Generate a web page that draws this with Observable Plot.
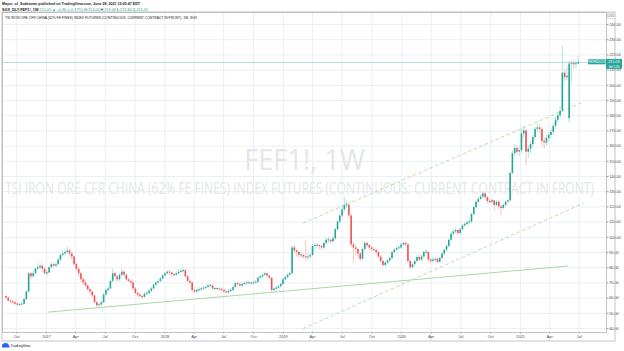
<!DOCTYPE html>
<html><head><meta charset="utf-8">
<script src="https://cdn.jsdelivr.net/npm/d3@7"></script>
<script src="https://cdn.jsdelivr.net/npm/@observablehq/plot@0.6"></script>
<style>
html,body{margin:0;padding:0;background:#fff;width:624px;height:351px;overflow:hidden}
#chart svg{display:block}
</style></head>
<body><div id="chart"></div>
<script>
// ---- data (weekly candles, SGX FEF1!) ----
const weekStart = "2016-08-29";
const closes = [
60,58,57.5,57,56,55.5,55.5,56,59,64,
76,74,76,79,80,81,79,76,76.5,80,
82,81,82,85,88,89,90,91,89,87,
82,79,76,72,70,68,65.5,64,61.5,57,
55,55.5,57,62,65,66,71,76,74,72,
75,77,75,72,71,70,66,63,62,61,
60.5,62.5,63,64.5,66,68.5,70,71,72.5,74.5,
76,77,76.5,75.5,75,76,77,77.5,78,74,
71,70,65,64,65,65.5,66,66.5,67,68,
68,66,66,66,65.5,65,64,63.5,64.5,65,
67,69.5,69,68,69,69.5,70,69.5,69.5,70,
70.5,73,74,75,76,74.5,73,65,66,66.5,
67.5,69,72,73.5,75,76,93,91,90,88,
88,87,86.5,87,88,94,94.5,94.5,94,93,
96,98,98,97,99,105,110,114,118,121,
121,114,95,93,92,89,85.5,92,96,94.5,
93,92,91.3,90,87,84,81.5,83,84.5,86,
90,91.5,92.6,93,95,96,95,84,80,82,
84,86.7,85,87,90,90,85,84,85,85.5,
83.5,86,89,91.5,94,98,102,103.5,104.5,102.5,
105,107.5,108.5,109.5,110,115,119.5,123,125,126.5,
128.5,126,123.5,123,124,121,123,120,119,121,
123,124,142,155,158.5,156,157,168,170,156,
158,161,165.7,171,172,171,163,162,165,167,
169,173,177,180,183,208,205,206,214,214.5,
213.5,214.25,215.05
];
const highs = [
62,61,59,58.5,58,57,56.5,57,60,65,
77,77,78,80,82,83,82,80,78,81,
83.5,83,83.5,86,89,91,91.5,94,92,90,
88,83,80,77,73.5,72,69,67,65,62,
58,56.5,58,63,66,67.5,72,79,77,75,
76,79,78,76,73,72,71,67,64,63,
62,63.5,64.5,65.5,67,69.5,71,72,73.5,75.5,
77,78,78,77,76.5,77.5,78.5,79,80,79,
75,72,70.5,66,66,67,67,67.5,68,69,
69,68.5,67,67,66.5,66.5,66,64.5,65.5,66,
68,70.5,70.5,70,70,70.5,71,71,70.5,71,
71.5,74,75,76.5,77,77,75,73.5,67,67.5,
68.5,70,73,74.5,76,77,94,94.5,92,91,
90,89,98,89,89.5,95.5,96,96,95.5,95,
97,99.5,100,99,100,106,111,115.5,119.5,126,
124,122,115,97,95,93,90,93,97,97,
95.5,94,93,92,91,88,85,84,85.5,87,
91,92.5,94,94.5,96,97,97,96,85,83.5,
85.5,88,88,88.5,91.5,92,90.5,86,86.5,87,
86.5,87,90,92.5,95,99,103,105,106,105.5,
106,108.5,110,111,112,116,120.5,124,126.5,128,
130,129,127,125,125.5,124.5,124,124,121,122,
124,125,143,157,161,160,160,172,173,171,
160,163,167,172.5,175,174,172,165,167,169,
171,175,179,182,186,226,210,212,216,216,
217,216,219
];
const lows = [
59,57.5,56.5,56,55,54.5,54.5,55,55.5,58.5,
63.5,72,73,75,78,79,77,75,74.5,76,
79,80,80,81.5,84,87,88,89,87.5,85,
81,77.5,74,70.5,68,66.5,64,62.5,60,56,
53.5,54,54.5,56.5,61,64,65.5,70,72.5,71,
71,74,73,71,70,68.5,65,62,60.5,60,
59,60,61.5,62,63.5,65.5,67.5,69,70,72,
74,75,75,74,74,74.5,75,76,76.5,73,
70,68.5,64,63,63,64,64.5,65,65.5,66,
66.5,65,65,64.5,64.5,64,63,62.5,62.5,63.5,
64.5,66.5,68,67,67,68,68.5,68.5,68.5,68.5,
69,70,72,73,74,73.5,72,64,64,65,
65.5,66.5,68.5,71,72.5,74,75.5,89,87,86,
86,85.5,84,85,86,87.5,92,93,92,91.5,
92,95,96,95.5,96,98,104,109,113,117,
119,112,93,83,88,86,84,85,91,93,
91.5,90.5,90,88.5,86,83,80.5,80.5,82,83.5,
85,89,90.5,91.5,92,94,93.5,83,78.5,79,
81,83,84,84,86,88.5,83.5,82.5,83,84,
82.5,83,85,88,90.5,93,97,101,102,101,
101.5,104,106.5,107.5,108,109,114,118.5,122,124,
125,124.5,122,121.5,122,117,120,118,114,118,
120,122,123,141,153,154,153,155,165,147,
152,155,159,164,169,168,160,158,160,163,
165,167,171,175,178,182,202,203,175,202,
210,211,213.8
];
const firstOpen = 61;
const gapOpens = [[248, 178], [252, 214]];
const yTicks = [40,50,60,70,80,90,100,110,120,130,140,150,160,170,180,190,200,210,220,230,240];
const xTickDates = ["2016-10-01","2017-01-01","2017-04-01","2017-07-01","2017-10-01","2018-01-01","2018-04-01","2018-07-01","2018-10-01","2019-01-01","2019-04-01","2019-07-01","2019-10-01","2020-01-01","2020-04-01","2020-07-01","2020-10-01","2021-01-01","2021-04-01","2021-07-01"];
const xTickLabels = ["Oct","2017","Apr","Jul","Oct","2018","Apr","Jul","Oct","2019","Apr","Jul","Oct","2020","Apr","Jul","Oct","2021","Apr","Jul"];
const trendSolid = [["2017-01-08", 50.8], ["2021-05-27", 81.1]];
const channelUpper = [["2019-03-03", 109.3], ["2021-07-13", 189]];
const channelLower = [["2019-03-03", 40], ["2021-07-13", 122.3]];
const symbolText = "FEF1!, 1W";
const longName = "TSI IRON ORE CFR CHINA (62% FE FINES) INDEX FUTURES (CONTINUOUS: CURRENT CONTRACT IN FRONT)";
const headerLine1 = "Mayur_of_Sodetown published on TradingView.com, June 28, 2021 12:05:47 EDT";
const headerLine2 = [["SGX_DLY:FEF1!, 1W ", 0], ["215.05 \u25B2 +0.80 (+0.37%) ", 1], ["O:", 0], ["214.00 ", 1], ["H:", 0], ["219.00 ", 1], ["L:", 0], ["213.80 ", 1], ["C:", 0], ["215.05", 1]];
const paneLegend = "TSI IRON ORE CFR CHINA (62% FE FINES) INDEX FUTURES (CONTINUOUS: CURRENT CONTRACT IN FRONT), 1W, SGX";
const contractLabel = "FEFN2021";
const countdown = "6d 12h";

// ---- build candles ----
const t0 = Date.parse(weekStart);
const bars = closes.map((c, i) => {
  let o = i === 0 ? firstOpen : closes[i - 1];
  const g = gapOpens.find(d => d[0] === i);
  if (g) o = g[1];
  return {date: new Date(t0 + i * 7 * 864e5), open: o, close: c,
    high: Math.max(highs[i], o, c), low: Math.min(lows[i], o, c)};
});
const up = bars.filter(d => d.close >= d.open);
const dn = bars.filter(d => d.close < d.open);
const bodyY1 = d => Math.abs(d.close - d.open) < 0.7 ? (d.open + d.close) / 2 - 0.35 : d.open;
const bodyY2 = d => Math.abs(d.close - d.open) < 0.7 ? (d.open + d.close) / 2 + 0.35 : d.close;
const toLine = arr => arr.map(([d, v]) => ({date: new Date(d), value: v}));
const labelByTime = new Map(xTickDates.map((d, i) => [+new Date(d), xTickLabels[i]]));
const last = bars[bars.length - 1];

const TEAL = "#26a69a", RED = "#ef5350", GRID = "#eceff5", FONT = "Liberation Sans, Arial, sans-serif";

const plot = Plot.plot({
  width: 624, height: 351,
  marginTop: 12, marginBottom: 19, marginLeft: 2, marginRight: 18,
  x: {type: "utc", domain: [new Date("2017-01-01"), new Date("2021-01-01")], range: [46, 520], axis: null},
  y: {domain: [40, 240], range: [328, 24], axis: null},
  style: {background: "#ffffff", fontFamily: FONT, overflow: "visible"},
  marks: [
    Plot.ruleY(yTicks, {stroke: GRID, strokeWidth: 1}),
    Plot.ruleX(xTickDates.map(d => new Date(d)), {stroke: GRID, strokeWidth: 1}),
    Plot.text([symbolText], {frameAnchor: "middle", dy: -12, fontSize: 30, fill: "#e4e6ea", fontFamily: "Open Sans", className: "wm1"}),
    Plot.text([longName], {frameAnchor: "middle", dx: -5, dy: 16, fontSize: 16, fill: "#e4e6ea", fontFamily: "Open Sans", className: "wm2"}),
    Plot.ruleY([last.close], {stroke: TEAL, strokeOpacity: 0.35, strokeWidth: 1}),
    Plot.line(toLine(trendSolid), {x: "date", y: "value", stroke: "#a9d8a3", strokeWidth: 1}),
    Plot.line(toLine(channelUpper), {x: "date", y: "value", stroke: "#b9e2ad", strokeWidth: 1, strokeDasharray: "3,3"}),
    Plot.line(toLine(channelLower), {x: "date", y: "value", stroke: "#b9e2ad", strokeWidth: 1, strokeDasharray: "3,3"}),
    Plot.ruleX(up, {x: "date", y1: "low", y2: "high", stroke: "#a3d9d3", strokeWidth: 0.8}),
    Plot.ruleX(dn, {x: "date", y1: "low", y2: "high", stroke: "#f6b8b6", strokeWidth: 0.8}),
    Plot.ruleX(up, {x: "date", y1: bodyY1, y2: bodyY2, stroke: TEAL, strokeWidth: 1.6}),
    Plot.ruleX(dn, {x: "date", y1: bodyY1, y2: bodyY2, stroke: RED, strokeWidth: 1.6}),
    Plot.axisY(yTicks, {anchor: "right", tickSize: 1.5, tickPadding: 1.2, fontSize: 3.8, tickFormat: d => d.toFixed(2), color: "#444", stroke: "#9598a1"}),
    Plot.axisX(xTickDates.map(d => new Date(d)), {anchor: "bottom", tickSize: 1.5, tickPadding: 1.5, fontSize: 3.8, tickFormat: d => labelByTime.get(+d), color: "#444", stroke: "#9598a1"}),
    Plot.frame({stroke: "#b2b5be", strokeWidth: 0.8})
  ]
});
document.getElementById("chart").appendChild(plot);

// ---- decorations ----
const svg = d3.select(plot);
// squeeze the watermark texts horizontally (reference is horizontally compressed)
function squeeze(sel, target) {
  sel.each(function () {
    const bb = this.getBBox();
    const cx = bb.x + bb.width / 2, sx = target / bb.width;
    this.setAttribute("transform",
      (this.getAttribute("transform") || "") + ` translate(${cx},0) scale(${sx},1) translate(${-cx},0)`);
  });
}
squeeze(svg.selectAll(".wm1 text"), 121);
squeeze(svg.selectAll(".wm2 text"), 590);

// outer pane border around axes
svg.append("rect").attr("x", 2).attr("y", 12).attr("width", 613).attr("height", 329)
  .attr("fill", "none").attr("stroke", "#b2b5be").attr("stroke-width", 0.8);

const deco = svg.append("g").attr("text-anchor", "start").attr("font-family", FONT);
// header line 1
deco.append("text").attr("x", 2).attr("y", 5).attr("font-size", 3.8).attr("font-weight", 700)
  .attr("fill", "#131722")
  .attr("textLength", 138).attr("lengthAdjust", "spacingAndGlyphs").text(headerLine1);
// header line 2
const h2 = deco.append("text").attr("x", 2).attr("y", 10.5).attr("font-size", 3.8)
  .attr("textLength", 146).attr("lengthAdjust", "spacingAndGlyphs");
headerLine2.forEach(([s, c], i) => h2.append("tspan").attr("fill", c ? TEAL : "#131722")
  .attr("font-weight", i === 0 ? 700 : 400).text(s));
// pane legend
deco.append("text").attr("x", 5).attr("y", 18.5).attr("font-size", 3.8)
  .attr("fill", "#131722").attr("textLength", 192).attr("lengthAdjust", "spacingAndGlyphs").text(paneLegend);

// USD box
deco.append("rect").attr("x", 607.5).attr("y", 13.5).attr("width", 7).attr("height", 5)
  .attr("fill", "#fff").attr("stroke", "#c5c8d0").attr("stroke-width", 0.5);
deco.append("text").attr("x", 611).attr("y", 17.2).attr("text-anchor", "middle").attr("font-size", 3)
  .attr("fill", "#666").text("USD");

// last price labels
const py = plot.scale("y").apply(last.close);
deco.append("rect").attr("x", 606).attr("y", py - 3).attr("width", 16).attr("height", 10).attr("fill", TEAL);
deco.append("text").attr("x", 614).attr("y", py + 1.3).attr("text-anchor", "middle").attr("font-size", 3.8)
  .attr("fill", "#fff").text(last.close.toFixed(2));
deco.append("text").attr("x", 614).attr("y", py + 5.6).attr("text-anchor", "middle").attr("font-size", 3.5)
  .attr("fill", "#fff").text(countdown);
deco.append("rect").attr("x", 588).attr("y", py - 2.6).attr("width", 17.5).attr("height", 5).attr("fill", TEAL);
deco.append("text").attr("x", 596.7).attr("y", py + 1.2).attr("text-anchor", "middle").attr("font-size", 3.5)
  .attr("fill", "#fff").text(contractLabel);

// TradingView footer logo
const lg = deco.append("g").attr("transform", "translate(2,342.5)");
lg.append("path").attr("d", "M0,5 L0,3 Q0,1 2,1 Q3,-0.5 4.5,0.8 Q6.5,0.6 6.8,2.8 Q8,3.4 7.6,5 Z").attr("fill", "#2962ff");
deco.append("text").attr("x", 10.5).attr("y", 347.3).attr("font-size", 4.2)
  .attr("fill", "#131722").attr("textLength", 20).attr("lengthAdjust", "spacingAndGlyphs").text("TradingView");
</script>
</body></html>
